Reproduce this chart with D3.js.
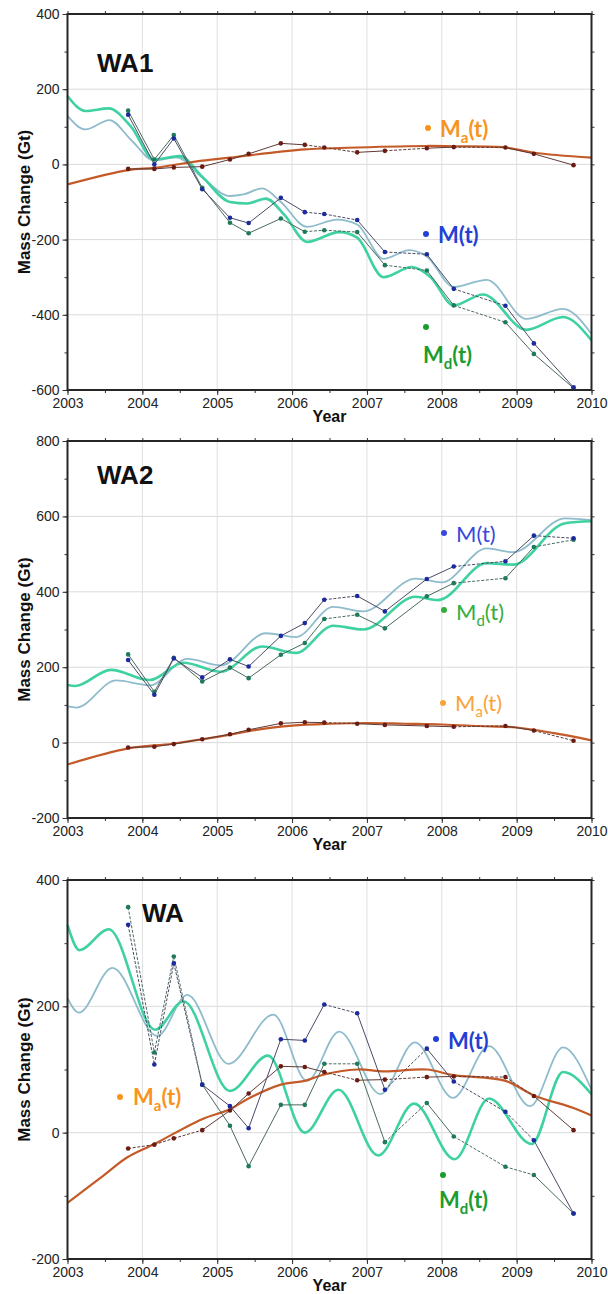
<!DOCTYPE html>
<html><head><meta charset="utf-8">
<script src="https://cdn.jsdelivr.net/npm/d3@7/dist/d3.min.js"></script>
<style>body{margin:0;background:#fff}svg{display:block}</style>
</head><body>
<svg id="c" width="608" height="1294"></svg>
<script>
// ---------- data ----------
const yearTicks = [2003, 2004, 2005, 2006, 2007, 2008, 2009, 2010];
const obsTimes = [2003.81, 2004.16, 2004.42, 2004.80, 2005.17, 2005.42, 2005.85, 2006.17,
                  2006.43, 2006.87, 2007.24, 2007.80, 2008.16, 2008.85, 2009.23, 2009.76];

// WA1
const wa1Ticks = [400, 200, 0, -200, -400, -600];
const wa1M  = [132, 0, 69, -66, -142, -156, -89, -127, -132, -148, -233, -239, -331, -376, -476, -593];
const wa1Md = [143, 13, 78, -62, -155, -183, -144, -179, -175, -180, -268, -282, -375, -420, -504, -595];
const wa1Ma = [-12, -12, -8, -6, 13, 28, 56, 52, 45, 32, 36, 43, 46, 45, 28, -2];
const wa1CurveM = [[2003.0,129],[2003.24,93],[2003.56,118],[2003.85,65],[2004.16,10],[2004.45,19],[2004.8,-35],
  [2005.17,-84],[2005.35,-80],[2005.6,-64],[2005.85,-100],[2006.2,-166],[2006.6,-147],[2006.87,-160],
  [2007.22,-251],[2007.57,-228],[2007.8,-245],[2008.16,-326],[2008.6,-307],[2009.13,-411],[2009.62,-384],[2010.0,-451]];
const wa1CurveMd = [[2003.0,182],[2003.24,142],[2003.55,149],[2003.85,100],[2004.16,13],[2004.5,22],[2004.8,-33],
  [2005.17,-100],[2005.4,-104],[2005.65,-91],[2005.9,-135],[2006.2,-206],[2006.63,-180],[2006.87,-195],
  [2007.22,-300],[2007.6,-273],[2007.85,-300],[2008.16,-375],[2008.55,-346],[2009.13,-440],[2009.62,-406],[2010.0,-468]];
const wa1CurveMa = [[2003.0,-53],[2003.81,-15],[2004.16,-9],[2004.8,10],[2005.17,18],[2005.85,34],[2006.17,40],
  [2006.87,45],[2007.8,49],[2008.16,48],[2008.85,45],[2009.23,31],[2010.0,18]];
const wa1Dashed = [7, 8, 10, 12];

// WA2
const wa2Ticks = [800, 600, 400, 200, 0, -200];
const wa2M  = [219, 127, 223, 173, 221, 202, 283, 317, 379, 389, 348, 434, 467, 481, 549, 542];
const wa2Md = [234, 135, 225, 162, 199, 171, 233, 264, 328, 339, 303, 388, 423, 436, 519, 538];
const wa2Ma = [-13, -11, -4, 9, 22, 34, 51, 54, 53, 50, 47, 44, 42, 44, 32, 5];
const wa2CurveM = [[2003.0,96],[2003.12,93],[2003.65,165],[2004.1,152],[2004.6,222],[2005.05,205],[2005.65,290],
  [2006.05,280],[2006.55,360],[2006.95,348],[2007.65,435],[2008.0,425],[2008.6,515],[2008.95,505],[2009.65,595],[2010.0,590]];
const wa2CurveMd = [[2003.0,153],[2003.1,150],[2003.58,193],[2004.1,166],[2004.55,212],[2005.05,188],[2005.6,255],
  [2006.05,238],[2006.55,310],[2006.95,300],[2007.65,387],[2007.95,378],[2008.6,476],[2008.95,472],[2009.65,582],[2010.0,587]];
const wa2CurveMa = [[2003.0,-58],[2003.8,-16],[2004.4,-3],[2005.0,15],[2005.5,33],[2006.0,45],[2006.5,50],[2007.0,52],
  [2007.5,50],[2008.0,48],[2008.5,44],[2009.0,40],[2009.5,25],[2010.0,6]];
const wa2Dashed = [8, 12, 14];

// WA
const wa3Ticks = [400, 200, 0, -200];
const wa3M  = [329, 108, 268, 76, 42, 7, 148, 146, 203, 189, 68, 133, 81, 33, -12, -128];
const wa3Md = [357, 127, 279, 76, 11, -53, 44, 44, 109, 109, -15, 47, -6, -54, -67, -128];
const wa3Ma = [-25, -19, -9, 4, 35, 62, 105, 104, 96, 83, 84, 88, 89, 88, 58, 4];
const wa3CurveM = [[2003.0,213],[2003.15,190],[2003.6,261],[2004.2,153],[2004.6,218],[2005.15,109],[2005.75,187],
  [2006.2,82],[2006.63,160],[2007.18,61],[2007.64,143],[2008.15,55],[2008.63,137],[2009.18,42],[2009.62,135],[2010.0,68]];
const wa3CurveMd = [[2003.0,329],[2003.16,289],[2003.55,322],[2004.17,163],[2004.55,208],[2005.17,66],[2005.68,122],
  [2006.17,0],[2006.62,68],[2007.15,-36],[2007.63,46],[2008.17,-42],[2008.63,54],[2009.2,-18],[2009.62,96],[2010.0,61]];
const wa3CurveMa = [[2003.0,-111],[2003.48,-68],[2003.8,-39],[2004.16,-18],[2004.79,21],[2005.17,37],[2005.4,53],
  [2005.85,76],[2006.17,82],[2006.43,92],[2006.87,100],[2007.24,97],[2007.8,100],[2008.16,91],[2008.85,82],
  [2009.23,59],[2009.76,39],[2010.0,27]];
const wa3Dashed = [0, 1, 2, 8, 10, 12, 13];

const panelNames = ["WA1", "WA2", "WA"];

// ---------- layout / style ----------
const X0 = 67.5, X1 = 591.5;
const C = {
  lightBlue: "#8fbccc", teal: "#3fd1a2", brownCurve: "#c45a28",
  dotM: "#1b2a9c", dotMd: "#1f7a58", dotMa: "#6b1c12",
  lineM: "#4a4a66", lineMd: "#4a6a5e", lineMa: "#5e3a36",
  labM: "#2140d4", labMd: "#1c9c2e", labMa: "#f7941d",
  labM2: "#3848dc", labMd2: "#33ad3e", labMa2: "#f8a43a"
};

const panels = [
  { name: panelNames[0], top: 14, bottom: 390, domain: [-600, 400], ticks: wa1Ticks,
    M: wa1M, Md: wa1Md, Ma: wa1Ma, cM: wa1CurveM, cMd: wa1CurveMd, cMa: wa1CurveMa, dashed: wa1Dashed,
    title: [97, 72], weight: "bold",
    labels: [
      { sub: "a", dot: [428, 128], tx: 440, ty: 137, color: C.labMa },
      { sub: "",  dot: [426, 234], tx: 438, ty: 243, color: C.labM },
      { sub: "d", dot: [426, 327], tx: 423, ty: 363, color: C.labMd }
    ] },
  { name: panelNames[1], top: 441, bottom: 818, domain: [-200, 800], ticks: wa2Ticks,
    M: wa2M, Md: wa2Md, Ma: wa2Ma, cM: wa2CurveM, cMd: wa2CurveMd, cMa: wa2CurveMa, dashed: wa2Dashed,
    title: [97, 484], weight: "normal",
    labels: [
      { sub: "",  dot: [444, 533], tx: 456, ty: 542, color: C.labM2 },
      { sub: "d", dot: [444, 610], tx: 456, ty: 620, color: C.labMd2 },
      { sub: "a", dot: [443, 703], tx: 455, ty: 711, color: C.labMa2 }
    ] },
  { name: panelNames[2], top: 880, bottom: 1259, domain: [-200, 400], ticks: wa3Ticks,
    M: wa3M, Md: wa3Md, Ma: wa3Ma, cM: wa3CurveM, cMd: wa3CurveMd, cMa: wa3CurveMa, dashed: wa3Dashed,
    title: [142, 922], weight: "bold",
    labels: [
      { sub: "",  dot: [436, 1039], tx: 448, ty: 1049, color: C.labM },
      { sub: "a", dot: [120, 1097], tx: 133, ty: 1105, color: C.labMa },
      { sub: "d", dot: [443, 1175], tx: 439, ty: 1208, color: C.labMd }
    ] }
];

const svg = d3.select("#c");
const x = d3.scaleLinear().domain([2003, 2010]).range([X0, X1]);
const AX = "Liberation Sans, Arial, Helvetica, sans-serif";
const LAB = "Lato, 'Open Sans', sans-serif";

panels.forEach(p => {
  const y = d3.scaleLinear().domain(p.domain).range([p.bottom, p.top]);
  const g = svg.append("g");

  // grid
  g.append("g").selectAll("line.h").data(p.ticks.filter(v => v > p.domain[0] && v < p.domain[1]))
    .join("line").attr("x1", X0).attr("x2", X1).attr("y1", d => y(d)).attr("y2", d => y(d))
    .attr("stroke", "#dadada").attr("stroke-width", 1);
  g.append("g").selectAll("line.v").data(yearTicks.slice(1, -1))
    .join("line").attr("y1", p.top).attr("y2", p.bottom).attr("x1", d => x(d)).attr("x2", d => x(d))
    .attr("stroke", "#e0e0e0").attr("stroke-width", 1);

  // model curves
  const curve = d3.line().x(d => x(d[0])).y(d => y(d[1])).curve(d3.curveMonotoneX);
  const smooth = d3.line().x(d => x(d[0])).y(d => y(d[1])).curve(d3.curveCatmullRom.alpha(0.5));
  g.append("path").attr("d", curve(p.cM)).attr("fill", "none").attr("stroke", C.lightBlue).attr("stroke-width", 1.8);
  g.append("path").attr("d", curve(p.cMd)).attr("fill", "none").attr("stroke", C.teal).attr("stroke-width", 2.6);
  g.append("path").attr("d", smooth(p.cMa)).attr("fill", "none").attr("stroke", C.brownCurve).attr("stroke-width", 2.2);

  // observation series
  const series = [
    { vals: p.Ma, line: C.lineMa, dot: C.dotMa },
    { vals: p.Md, line: C.lineMd, dot: C.dotMd },
    { vals: p.M,  line: C.lineM,  dot: C.dotM }
  ];
  series.forEach(s => {
    const segs = d3.range(obsTimes.length - 1).map(i => ({ i, a: [obsTimes[i], s.vals[i]], b: [obsTimes[i + 1], s.vals[i + 1]] }));
    g.append("g").selectAll("line").data(segs).join("line")
      .attr("x1", d => x(d.a[0])).attr("y1", d => y(d.a[1]))
      .attr("x2", d => x(d.b[0])).attr("y2", d => y(d.b[1]))
      .attr("stroke", s.line).attr("stroke-width", 1)
      .attr("stroke-dasharray", d => p.dashed.includes(d.i) ? "3,1.6" : null);
  });
  series.forEach(s => {
    g.append("g").selectAll("circle").data(obsTimes.map((t, i) => [t, s.vals[i]])).join("circle")
      .attr("cx", d => x(d[0])).attr("cy", d => y(d[1])).attr("r", 2.3).attr("fill", s.dot);
  });

  // axes
  const styleAxis = sel => {
    sel.select(".domain").remove();
    sel.selectAll(".tick line").attr("stroke", "#333").attr("stroke-width", 1);
    sel.selectAll(".tick text").attr("font-family", AX).attr("font-size", 14).attr("fill", "#222");
  };
  const yMinor = d3.range(p.domain[0], p.domain[1] + 1, 100);
  const xMinor = d3.range(2003, 2010.01, 0.5);
  g.append("g").attr("transform", `translate(${X0},0)`)
    .call(d3.axisLeft(y).tickValues(yMinor).tickSize(3).tickFormat("")).call(styleAxis);
  g.append("g").attr("transform", `translate(${X0},0)`)
    .call(d3.axisLeft(y).tickValues(p.ticks).tickSize(5).tickPadding(3).tickFormat(d3.format("d"))).call(styleAxis)
    .selectAll(".tick text").text(d => String(d));
  g.append("g").attr("transform", `translate(${X1},0)`)
    .call(d3.axisRight(y).tickValues(yMinor).tickSize(3).tickFormat("")).call(styleAxis);
  g.append("g").attr("transform", `translate(0,${p.bottom})`)
    .call(d3.axisBottom(x).tickValues(xMinor).tickSize(3).tickFormat("")).call(styleAxis);
  g.append("g").attr("transform", `translate(0,${p.bottom})`)
    .call(d3.axisBottom(x).tickValues(yearTicks).tickSize(5).tickPadding(3).tickFormat(d3.format("d"))).call(styleAxis);
  g.append("g").attr("transform", `translate(0,${p.top})`)
    .call(d3.axisTop(x).tickValues(xMinor).tickSize(3).tickFormat("")).call(styleAxis);

  // frame
  g.append("rect").attr("x", X0).attr("y", p.top).attr("width", X1 - X0).attr("height", p.bottom - p.top)
    .attr("fill", "none").attr("stroke", "#262626").attr("stroke-width", 2);

  // axis titles
  g.append("text").attr("x", (X0 + X1) / 2).attr("y", p.bottom + 32).attr("text-anchor", "middle")
    .attr("font-family", AX).attr("font-weight", "bold").attr("font-size", 16).attr("fill", "#111").text("Year");
  g.append("text").attr("transform", `translate(30,${(p.top + p.bottom) / 2}) rotate(-90)`)
    .attr("text-anchor", "middle").attr("font-family", AX).attr("font-weight", "bold").attr("font-size", 17)
    .attr("fill", "#111").text("Mass Change (Gt)");

  // panel title
  g.append("text").attr("x", p.title[0]).attr("y", p.title[1])
    .attr("font-family", AX).attr("font-weight", "bold").attr("font-size", 26).attr("fill", "#111").text(p.name);

  // legend labels
  p.labels.forEach(l => {
    g.append("circle").attr("cx", l.dot[0]).attr("cy", l.dot[1]).attr("r", 3).attr("fill", l.color);
    const t = g.append("text").attr("x", l.tx).attr("y", l.ty).attr("font-family", LAB)
      .attr("font-weight", p.weight).attr("font-size", 22).attr("fill", l.color);
    t.append("tspan").text("M");
    if (l.sub) {
      t.append("tspan").attr("font-size", 15).attr("dy", 6).text(l.sub);
      t.append("tspan").attr("dy", -6).text("(t)");
    } else {
      t.append("tspan").text("(t)");
    }
  });
});
</script>
</body></html>
